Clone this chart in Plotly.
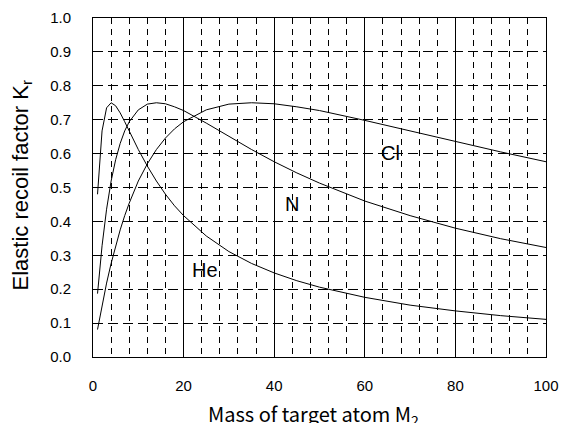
import plotly.graph_objects as go

# Target mass M2 sampling points
m2 = [1, 2, 3, 4, 5, 6, 7, 8, 10, 12, 14, 16, 18, 20, 25, 30, 35, 40, 45, 50,
      60, 70, 80, 90, 100]

# Elastic recoil factor for each projectile
k_he = [0.480, 0.667, 0.735, 0.750, 0.741, 0.720, 0.694, 0.667, 0.612, 0.563,
        0.519, 0.480, 0.446, 0.417, 0.357, 0.311, 0.276, 0.248, 0.225, 0.206,
        0.176, 0.153, 0.136, 0.122, 0.111]
k_n = [0.187, 0.328, 0.436, 0.519, 0.582, 0.630, 0.667, 0.694, 0.729, 0.746,
       0.750, 0.747, 0.738, 0.727, 0.690, 0.651, 0.612, 0.576, 0.543, 0.513,
       0.460, 0.417, 0.380, 0.349, 0.323]
k_cl = [0.081, 0.153, 0.218, 0.276, 0.328, 0.375, 0.417, 0.454, 0.519, 0.570,
        0.612, 0.646, 0.673, 0.694, 0.729, 0.746, 0.750, 0.747, 0.738, 0.727,
        0.698, 0.667, 0.635, 0.605, 0.576]

series = [("He", k_he), ("N", k_n), ("Cl", k_cl)]
label_pos = {"He": (24.8, 0.257), "N": (44, 0.451), "Cl": (65.6, 0.602)}

fig = go.Figure()
for name, ys in series:
    fig.add_trace(go.Scatter(x=m2, y=ys, mode="lines", name=name,
                             line=dict(color="black", width=1),
                             showlegend=False))
    lx, ly = label_pos[name]
    fig.add_annotation(x=lx, y=ly, text=name, showarrow=False,
                       font=dict(family="Liberation Sans, Arial", size=20,
                                 color="black"))

tick_font = dict(family="Liberation Sans, Arial", size=15, color="black")

fig.update_xaxes(range=[0, 100], dtick=20, tick0=0, automargin=False,
                 showgrid=True, gridcolor="black", gridwidth=1,
                 minor=dict(dtick=4, tick0=0, showgrid=True, gridcolor="black",
                            gridwidth=1, griddash="6px,5px"),
                 showline=True, linecolor="black", linewidth=1, mirror=True,
                 zeroline=False, ticks="", ticklabelstandoff=15,
                 tickfont=tick_font)
fig.update_yaxes(range=[0, 1], dtick=0.1, tick0=0, tickformat=".1f",
                 automargin=False,
                 showgrid=True, gridcolor="black", gridwidth=1,
                 griddash="10px,5px",
                 showline=True, linecolor="black", linewidth=1, mirror=True,
                 zeroline=False, ticks="", ticklabelstandoff=18,
                 tickfont=tick_font)

fig.add_annotation(xref="paper", yref="paper", x=0.5, y=-0.125,
                   xanchor="center", yanchor="top", showarrow=False,
                   xshift=-6, yshift=2,
                   text="Mass of target atom M<sub>2</sub>",
                   font=dict(family="Noto Sans CJK JP", size=20, color="black"))
fig.add_annotation(xref="paper", yref="paper", x=0, y=0.5,
                   xanchor="center", yanchor="middle", showarrow=False,
                   xshift=-72, yshift=2, textangle=-90,
                   text="Elastic recoil factor K<sub>r</sub>",
                   font=dict(family="Liberation Sans, Arial", size=22,
                             color="black"))

fig.update_layout(width=561, height=423,
                  margin=dict(l=93, r=15, t=18, b=66),
                  paper_bgcolor="white", plot_bgcolor="white")

fig.write_html("out.html")
